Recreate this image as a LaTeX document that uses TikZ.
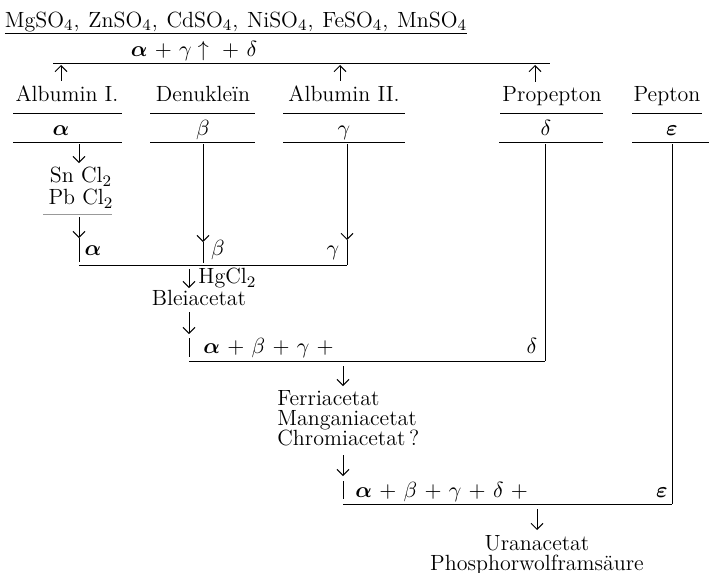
\documentclass[tikz,border=0pt]{standalone}
\usepackage{bm}
\usetikzlibrary{arrows.meta}
\AtBeginDocument{\medmuskip=6mu\relax}
\tikzset{
  txt/.style={inner sep=0pt, anchor=base, font=\fontsize{11}{10.5}\selectfont},
  rule/.style={line width=0.5pt},
  arr/.style={line width=0.5pt, -{Straight Barb[length=3pt,width=6pt]}}
}
\begin{document}
\begin{tikzpicture}[x=0.5pt,y=-0.5pt]
\useasboundingbox (0,0) rectangle (709,573);
% Sulfate
\node[txt] (salze) at (236,27) {MgSO$_4$,\hspace{0.4em}ZnSO$_4$,\hspace{0.4em}CdSO$_4$,\hspace{0.4em}NiSO$_4$,\hspace{0.4em}FeSO$_4$,\hspace{0.4em}MnSO$_4$};
\draw[rule] (5,33) -- (467,33);
\node[txt] (sulf) at (194,56) {$\bm\alpha+\gamma\uparrow{}+\delta$};
\coordinate (s1) at (53,63);
\coordinate (s2) at (550,63);
\draw[rule] (s1) -- (s2);
% Eiweisskoerper
\node[txt] (albI) at (67,101) {Albumin I.};
\node[txt] (denuk) at (203,101) {Denukleïn};
\node[txt] (albII) at (344,101) {Albumin II.};
\node[txt] (prop) at (552,101) {Propepton};
\node[txt] (pep) at (667,101) {Pepton};
\foreach \a/\b in {13/122,150/255,283/405,500/603,632/702}
  \draw[rule] (\a,113) -- (\b,113);
\node[txt] (a1) at (61,135) {$\bm\alpha$};
\node[txt] (b1) at (203,135) {$\beta$};
\node[txt] (g1) at (344,135) {$\gamma$};
\node[txt] (d1) at (546,135) {$\delta$};
\node[txt] (e1) at (672,135) {$\bm\varepsilon$};
\foreach \a/\b in {13/122,150/255,283/405,499/603,632/709}
  \draw[rule] (\a,142) -- (\b,142);
\coordinate (u1) at (61,65);
\coordinate (u2) at (340,65);
\coordinate (u3) at (535,65);
\draw[arr, shorten <=2pt] (albI.north -| u1) -- (u1);
\draw[arr, shorten <=2pt] (albII.north -| u2) -- (u2);
\draw[arr, shorten <=2pt] (prop.north -| u3) -- (u3);
% Zinnchlorid, Bleichlorid
\coordinate (ka) at (79,144);
\coordinate (kb) at (203,144);
\coordinate (kg) at (347,144);
\coordinate (kd) at (545,144);
\coordinate (ke) at (672,144);
\node[txt] (sn) at (81,183) {Sn Cl$_2$};
\node[txt] (pb) at (81,205) {Pb Cl$_2$};
\draw[arr, shorten >=2pt] (ka) -- (sn.north -| ka);
\draw[rule, black!40] (43,214) -- (112,214);
\coordinate (r1w) at (79,265);
\coordinate (r1e) at (347,265);
\draw[arr] (79,217) -- (79,238);
\draw[rule] (79,238) -- (79,262);
\node[txt] (a2) at (93,256) {$\bm\alpha$};
\node[txt] (b2) at (218,256) {$\beta$};
\node[txt] (g2) at (333,256) {$\gamma$};
\draw[arr] (kb) -- (203,242);
\draw[rule] (203,242) -- (203,263);
\draw[arr] (kg) -- (347,240);
\draw[rule] (347,240) -- (r1e);
\draw[rule] (r1w) -- (r1e);
% Sublimat, Bleiacetat
\coordinate (r2w) at (189,361);
\coordinate (r2e) at (545,361);
\draw[arr] (189,269) -- (189,288);
\node[txt, anchor=base west] (hg) at (198,284) {HgCl$_2$};
\node[txt] (blei) at (199,306) {Bleiacetat};
\draw[arr] (189,312) -- (189,334);
\draw[rule] (189,338) -- (189,357);
\node[txt, anchor=base west] (s3) at (203,353) {$\bm\alpha+\beta+\gamma+{}$};
\node[txt] (d2) at (532,353) {$\delta$};
\draw[rule] (r2w) -- (r2e);
\draw[rule] (kd) -- (r2e);
% Ferri-, Mangani-, Chromiacetat
\coordinate (r3w) at (343,504);
\coordinate (r3e) at (672,504);
\draw[arr] (343,366) -- (343,386);
\node[txt, anchor=base west] (fe) at (277,405) {Ferriacetat};
\node[txt, anchor=base west] (mn) at (277,425) {Manganiacetat};
\node[txt, anchor=base west] (cr) at (277,445) {Chromiacetat\,?};
\draw[arr] (343,455) -- (343,476);
\draw[rule] (343,481) -- (343,499);
\node[txt, anchor=base west] (s4) at (355,497) {$\bm\alpha+\beta+\gamma+\delta+{}$};
\node[txt] (e2) at (662,497) {$\bm\varepsilon$};
\draw[rule] (r3w) -- (r3e);
\draw[rule] (ke) -- (r3e);
% Uranacetat
\draw[arr] (537,509) -- (537,530);
\node[txt] (uran) at (537,551) {Uranacetat};
\node[txt] (phos) at (537,570) {Phosphorwolframsäure};
\end{tikzpicture}
\end{document}
